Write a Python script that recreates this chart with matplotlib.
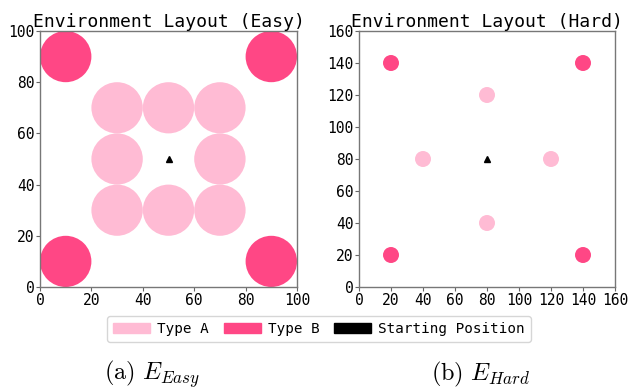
import matplotlib
matplotlib.use("Agg")
import matplotlib.pyplot as plt
from matplotlib.patches import Circle, Patch

# Easy layout: 100 x 100 field, obstacles of radius 10
easy_size = 100
easy_radius = 10
easy_type_a = [(30, 70), (50, 70), (70, 70), (30, 50), (70, 50),
               (30, 30), (50, 30), (70, 30)]
easy_type_b = [(10, 90), (90, 90), (10, 10), (90, 10)]
easy_start = (50, 50)

# Hard layout: 160 x 160 field, obstacles of radius 5
hard_size = 160
hard_radius = 5
hard_type_a = [(80, 120), (40, 80), (120, 80), (80, 40)]
hard_type_b = [(20, 140), (140, 140), (20, 20), (140, 20)]
hard_start = (80, 80)

color_a = "#ffbbd4"
color_b = "#ff4785"
mono = "DejaVu Sans Mono"

plt.rcParams["mathtext.fontset"] = "cm"

fig = plt.figure(figsize=(6.29, 3.92), dpi=100)
W, H = 629, 392


def draw_layout(ax, size, radius, type_a, type_b, start, title, ticks):
    for x, y in type_a:
        ax.add_patch(Circle((x, y), radius, color=color_a, lw=0))
    for x, y in type_b:
        ax.add_patch(Circle((x, y), radius, color=color_b, lw=0))
    ax.plot(*start, marker="^", color="black", markersize=5)
    ax.set_xlim(0, size)
    ax.set_ylim(0, size)
    ax.set_xticks(ticks)
    ax.set_yticks(ticks)
    ax.set_title(title, family=mono, fontsize=13, pad=1)
    for lbl in ax.get_xticklabels() + ax.get_yticklabels():
        lbl.set_family(mono)
        lbl.set_fontsize(10.5)
    ax.tick_params(length=3, width=0.8, color="#666666", pad=1)
    for sp in ax.spines.values():
        sp.set_color("#777777")
        sp.set_linewidth(1.0)


ax1 = fig.add_axes([40 / W, 1 - 287 / H, 257 / W, 256 / H])
ax2 = fig.add_axes([359 / W, 1 - 287 / H, 256 / W, 256 / H])

draw_layout(ax1, easy_size, easy_radius, easy_type_a, easy_type_b, easy_start,
            "Environment Layout (Easy)", range(0, 101, 20))
draw_layout(ax2, hard_size, hard_radius, hard_type_a, hard_type_b, hard_start,
            "Environment Layout (Hard)", range(0, 161, 20))

handles = [Patch(color=color_a, label="Type A"),
           Patch(color=color_b, label="Type B"),
           Patch(color="black", label="Starting Position")]
fig.legend(handles=handles, loc="center", bbox_to_anchor=(319 / W, 1 - 329 / H),
           ncol=3, prop={"family": mono, "size": 10.3}, frameon=True,
           handlelength=2.6, handletextpad=0.5, columnspacing=1.0,
           borderpad=0.4, fancybox=True)

fig.text(152 / W, 1 - 374 / H, r"$\mathrm{(a)}\ E_{Easy}$", ha="center",
         va="center", fontsize=17.5)
fig.text(481 / W, 1 - 374 / H, r"$\mathrm{(b)}\ E_{Hard}$", ha="center",
         va="center", fontsize=17.5)

fig.savefig("out.png", dpi=100)
